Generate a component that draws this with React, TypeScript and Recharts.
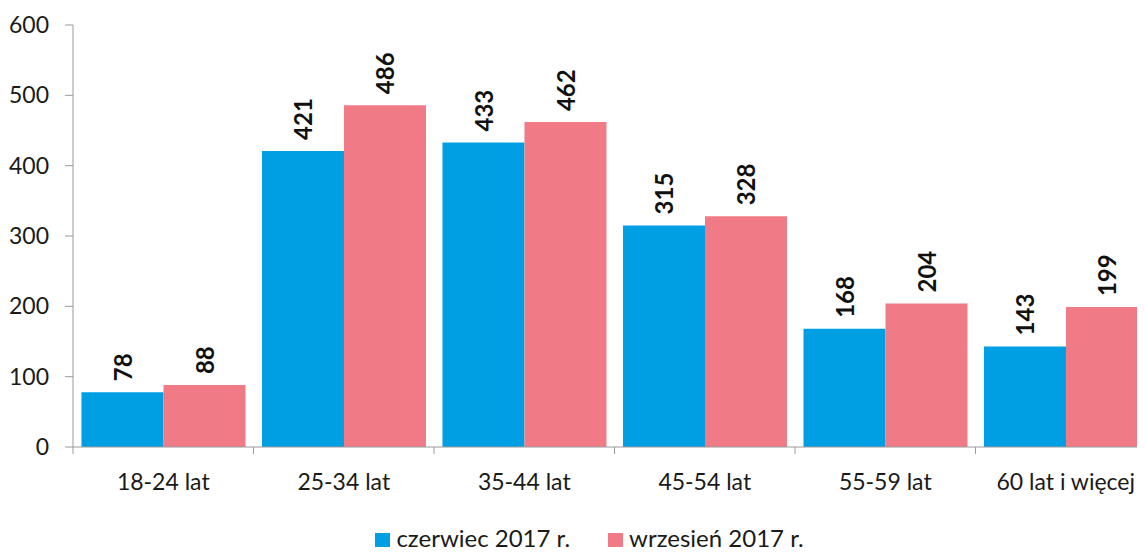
import { BarChart, Bar, XAxis, YAxis, Legend, LabelList } from 'recharts';

const categories = ['18-24 lat', '25-34 lat', '35-44 lat', '45-54 lat', '55-59 lat', '60 lat i więcej'];
const czerwiec = [78, 421, 433, 315, 168, 143];
const wrzesien = [88, 486, 462, 328, 204, 199];
const yTicks = [0, 100, 200, 300, 400, 500, 600];
const seriesNames = ['czerwiec 2017 r.', 'wrzesień 2017 r.'];

const data = categories.map((name, i) => ({ name, czerwiec: czerwiec[i], wrzesien: wrzesien[i] }));

const BLUE = '#009FE3';
const PINK = '#F07A85';
const AXIS = '#9a9a9a';
const FONT = 'Lato, "Open Sans", sans-serif';
const W = 1154;
const H = 546;
const PLOT_BOTTOM = 439;
const HALF_BAND = 1083 / 12;

// category labels plus tick marks on the band edges (not centres)
const CategoryTick = ({ x, payload, index }: any) => (
  <g>
    {index === 0 && <line x1={x - HALF_BAND} x2={x - HALF_BAND} y1={PLOT_BOTTOM} y2={PLOT_BOTTOM + 7} stroke={AXIS} />}
    <line x1={x + HALF_BAND} x2={x + HALF_BAND} y1={PLOT_BOTTOM} y2={PLOT_BOTTOM + 7} stroke={AXIS} />
    <text x={x} y={PLOT_BOTTOM + 43} textAnchor="middle" fill="#1a1a1a" fontSize={23} fontFamily={FONT}>
      {payload.value}
    </text>
  </g>
);

const ValueLabel = ({ x, y, width, value }: any) => {
  const cx = x + width / 2;
  const cy = y - 11;
  return (
    <text
      x={cx}
      y={cy}
      transform={`rotate(-90 ${cx} ${cy})`}
      textAnchor="start"
      dominantBaseline="central"
      fontSize={24}
      fontWeight={700}
      fontFamily={FONT}
      fill="#111"
    >
      {value}
    </text>
  );
};

const LegendContent = () => (
  <div
    style={{
      display: 'flex',
      justifyContent: 'center',
      gap: 38,
      paddingLeft: 15,
      fontFamily: FONT,
      fontSize: 24,
      color: '#1a1a1a',
      lineHeight: '24px',
      height: 24,
    }}
  >
    {seriesNames.map((n, i) => (
      <div key={n} style={{ display: 'flex', alignItems: 'flex-start' }}>
        <span style={{ display: 'inline-block', width: 15, height: 14, marginTop: 7, background: i === 0 ? BLUE : PINK, marginRight: 6 }} />
        <span>{n}</span>
      </div>
    ))}
  </div>
);

export default function App() {
  return (
    <div style={{ width: 1137, overflow: 'hidden' }}>
      <BarChart
        width={W}
        height={H}
        data={data}
        margin={{ top: 17, right: 6, bottom: 33, left: 0 }}
        barGap={0}
        barCategoryGap="4.7%"
      >
        <YAxis
          width={65}
          domain={[0, 600]}
          ticks={yTicks}
          interval={0}
          stroke={AXIS}
          tickSize={8}
          tickMargin={16}
          tick={{ fill: '#1a1a1a', fontSize: 23, fontFamily: FONT }}
        />
        <XAxis dataKey="name" height={50} stroke={AXIS} tickLine={false} interval={0} tick={<CategoryTick />} />
        <Legend verticalAlign="bottom" height={24} wrapperStyle={{ bottom: 4 }} content={<LegendContent />} />
        <Bar dataKey="czerwiec" name={seriesNames[0]} fill={BLUE} isAnimationActive={false}>
          <LabelList dataKey="czerwiec" content={<ValueLabel />} />
        </Bar>
        <Bar dataKey="wrzesien" name={seriesNames[1]} fill={PINK} isAnimationActive={false}>
          <LabelList dataKey="wrzesien" content={<ValueLabel />} />
        </Bar>
      </BarChart>
    </div>
  );
}
